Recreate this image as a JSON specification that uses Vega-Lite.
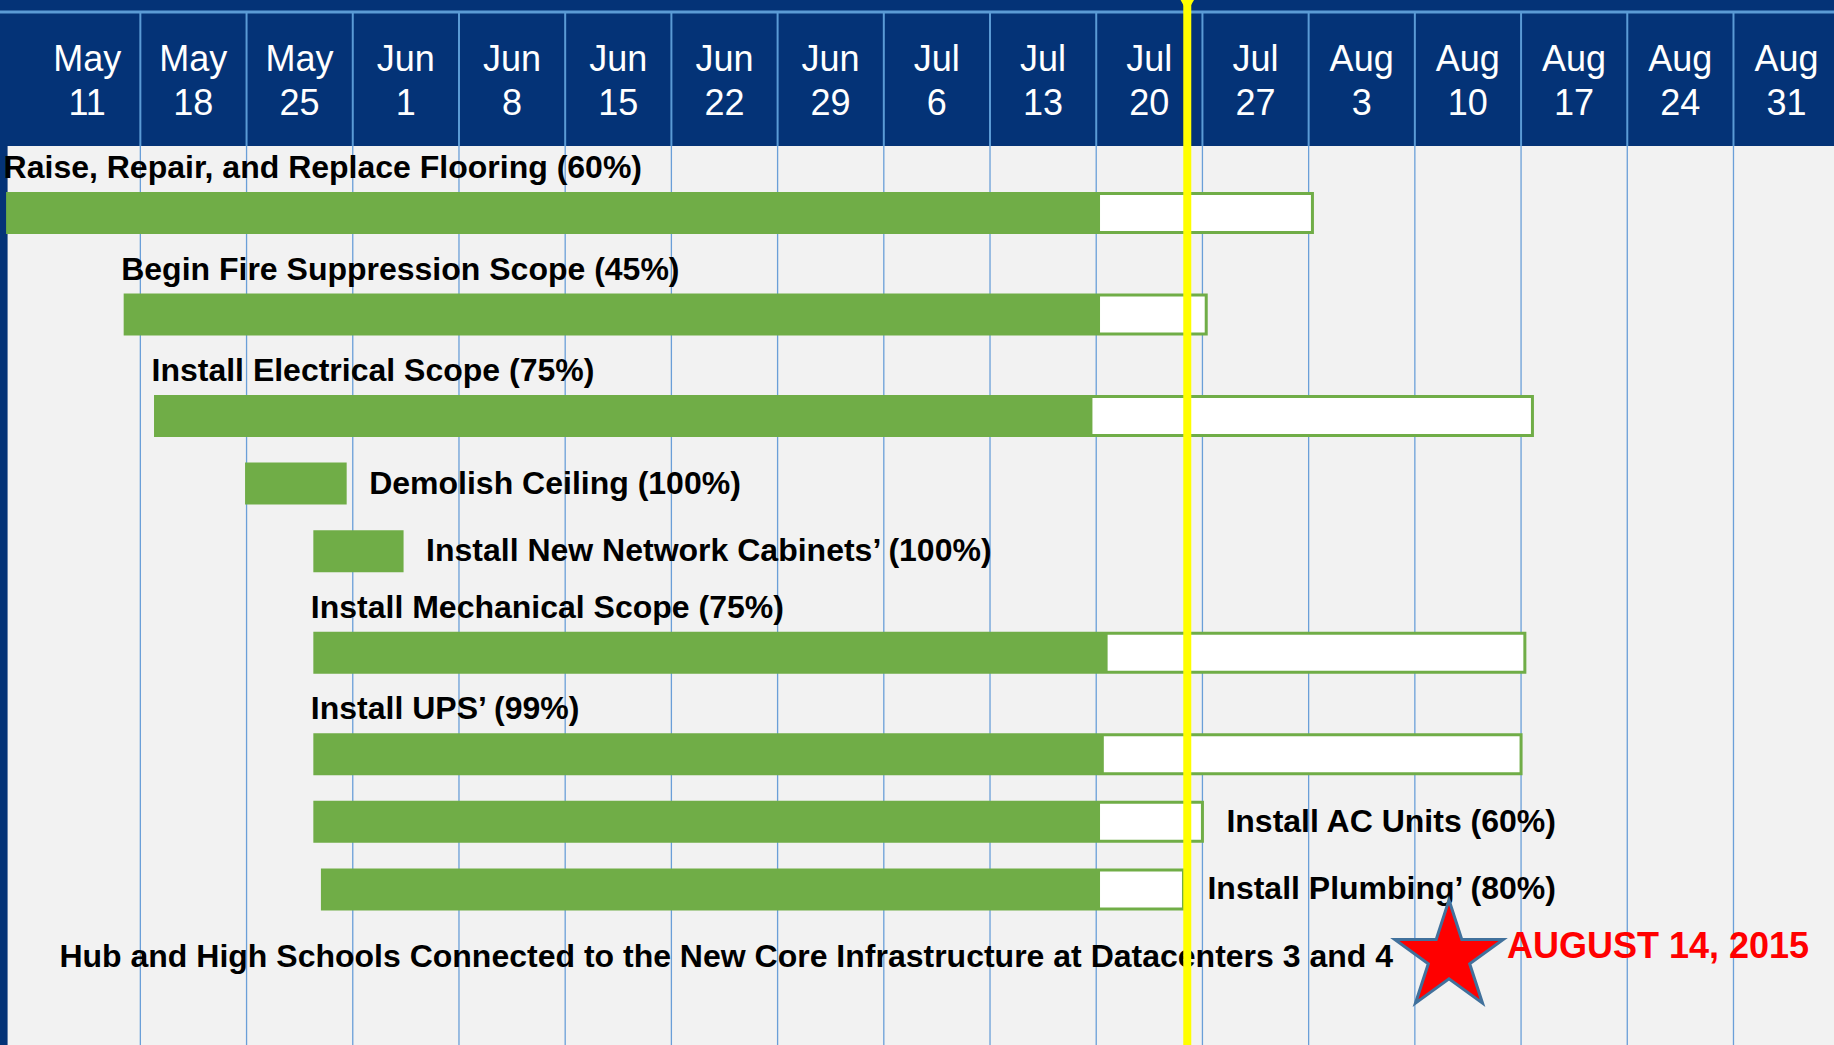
{
  "$schema": "https://vega.github.io/schema/vega-lite/v6.json",
  "width": 1834,
  "height": 1045,
  "autosize": {"type": "none"},
  "padding": 0,
  "background": "#043377",
  "config": {"view": {"stroke": null}, "axis": {"disable": true}},
  "datasets": {
    "tasks": [
      {"id": 1, "task": "Raise, Repair, and Replace Flooring (60%)", "start": "2015-05-09T06:00:00", "done": "2015-07-20T06:00:00", "end": "2015-08-03T06:00:00"},
      {"id": 2, "task": "Begin Fire Suppression Scope (45%)", "start": "2015-05-17T00:00:00", "done": "2015-07-20T06:00:00", "end": "2015-07-27T06:00:00"},
      {"id": 3, "task": "Install Electrical Scope (75%)", "start": "2015-05-19T00:00:00", "done": "2015-07-19T18:00:00", "end": "2015-08-17T18:00:00"},
      {"id": 4, "task": "Demolish Ceiling (100%)", "start": "2015-05-25T00:00:00", "done": "2015-05-31T12:00:00", "end": "2015-05-31T12:00:00"},
      {"id": 5, "task": "Install New Network Cabinets’ (100%)", "start": "2015-05-29T12:00:00", "done": "2015-06-04T06:00:00", "end": "2015-06-04T06:00:00"},
      {"id": 6, "task": "Install Mechanical Scope (75%)", "start": "2015-05-29T12:00:00", "done": "2015-07-20T18:00:00", "end": "2015-08-17T06:00:00"},
      {"id": 7, "task": "Install UPS’ (99%)", "start": "2015-05-29T12:00:00", "done": "2015-07-20T12:00:00", "end": "2015-08-17T00:00:00"},
      {"id": 8, "task": "Install AC Units (60%)", "start": "2015-05-29T12:00:00", "done": "2015-07-20T06:00:00", "end": "2015-07-27T00:00:00"},
      {"id": 9, "task": "Install Plumbing’ (80%)", "start": "2015-05-30T00:00:00", "done": "2015-07-20T06:00:00", "end": "2015-07-25T18:00:00"}
    ],
    "milestone": [
      {"id": 10, "task": "Hub and High Schools Connected to the New Core Infrastructure at Datacenters 3 and 4", "date": "2015-08-12T06:00:00", "label": "AUGUST 14, 2015"}
    ],
    "status": [{"date": "2015-07-26T00:00:00"}],
    "weeks": [
      {"date": "2015-05-11T00:00:00"}, {"date": "2015-05-18T00:00:00"}, {"date": "2015-05-25T00:00:00"},
      {"date": "2015-06-01T00:00:00"}, {"date": "2015-06-08T00:00:00"}, {"date": "2015-06-15T00:00:00"},
      {"date": "2015-06-22T00:00:00"}, {"date": "2015-06-29T00:00:00"}, {"date": "2015-07-06T00:00:00"},
      {"date": "2015-07-13T00:00:00"}, {"date": "2015-07-20T00:00:00"}, {"date": "2015-07-27T00:00:00"},
      {"date": "2015-08-03T00:00:00"}, {"date": "2015-08-10T00:00:00"}, {"date": "2015-08-17T00:00:00"},
      {"date": "2015-08-24T00:00:00"}, {"date": "2015-08-31T00:00:00"}
    ]
  },
  "resolve": {"scale": {"y": "independent"}},
  "layer": [
    {
      "layer": [
        {
          "data": {"name": "status"},
          "mark": {"type": "rect", "fill": "#F2F2F2"},
          "encoding": {
            "x": {"datum": {"year": 2015, "month": 5, "date": 9, "hours": 6}, "type": "temporal",
                  "scale": {"domain": [{"year": 2015, "month": 5, "date": 8, "hours": 18}, {"year": 2015, "month": 9, "date": 6, "hours": 15}], "nice": false}},
            "x2": {"datum": {"year": 2015, "month": 9, "date": 6, "hours": 15}},
            "y": {"datum": 0, "type": "quantitative", "scale": {"domain": [-1.78, 10.963], "reverse": true, "nice": false, "zero": false}},
            "y2": {"datum": 10.963}
          }
        },
        {
          "data": {"name": "weeks"},
          "transform": [{"filter": "time(datum.date) > time(datetime(2015, 4, 12))"}],
          "mark": {"type": "rule", "color": "#5B9BD5", "strokeWidth": 2},
          "encoding": {
            "x": {"field": "date", "type": "temporal"},
            "y": {"datum": -1.634, "type": "quantitative"},
            "y2": {"datum": 0}
          }
        },
        {
          "data": {"name": "weeks"},
          "transform": [{"filter": "time(datum.date) > time(datetime(2015, 4, 12))"}],
          "mark": {"type": "rule", "color": "#6A9FD8", "strokeWidth": 1.3},
          "encoding": {
            "x": {"field": "date", "type": "temporal"},
            "y": {"datum": 0, "type": "quantitative"},
            "y2": {"datum": 10.963}
          }
        },
        {
          "data": {"name": "status"},
          "mark": {"type": "rule", "color": "#5B9BD5", "strokeWidth": 3},
          "encoding": {
            "y": {"datum": -1.634, "type": "quantitative"}
          }
        },
        {
          "data": {"name": "weeks"},
          "mark": {"type": "text", "font": "Liberation Sans", "fontSize": 36, "color": "white", "align": "center", "baseline": "alphabetic", "dx": 53},
          "encoding": {
            "x": {"field": "date", "type": "temporal"},
            "y": {"datum": -0.917, "type": "quantitative"},
            "text": {"field": "date", "type": "temporal", "format": "%b"}
          }
        },
        {
          "data": {"name": "weeks"},
          "mark": {"type": "text", "font": "Liberation Sans", "fontSize": 36, "color": "white", "align": "center", "baseline": "alphabetic", "dx": 53},
          "encoding": {
            "x": {"field": "date", "type": "temporal"},
            "y": {"datum": -0.377, "type": "quantitative"},
            "text": {"field": "date", "type": "temporal", "format": "%-d"}
          }
        }
      ]
    },
    {
      "layer": [
        {
          "data": {"name": "tasks"},
          "mark": {"type": "bar", "orient": "horizontal", "height": 39, "fill": "white", "stroke": "#70AD47", "strokeWidth": 3},
          "encoding": {
            "x": {"field": "start", "type": "temporal"},
            "x2": {"field": "end"},
            "y": {"field": "task", "type": "nominal",
                  "scale": {"domain": [
                    "top1", "top2", "top3", "top4", "top5",
                    "Raise, Repair, and Replace Flooring (60%)", "gap1", "gap2",
                    "Begin Fire Suppression Scope (45%)", "gap3", "gap4",
                    "Install Electrical Scope (75%)", "gap5",
                    "Demolish Ceiling (100%)", "gap6",
                    "Install New Network Cabinets’ (100%)", "gap7", "gap8",
                    "Install Mechanical Scope (75%)", "gap9", "gap10",
                    "Install UPS’ (99%)", "gap11",
                    "Install AC Units (60%)", "gap12",
                    "Install Plumbing’ (80%)", "gap13",
                    "Hub and High Schools Connected to the New Core Infrastructure at Datacenters 3 and 4",
                    "bottom1"],
                    "paddingInner": 0, "paddingOuter": 0.95, "align": 0.421}}
          }
        },
        {
          "data": {"name": "tasks"},
          "mark": {"type": "bar", "orient": "horizontal", "height": 39, "fill": "#70AD47"},
          "encoding": {
            "x": {"field": "start", "type": "temporal"},
            "x2": {"field": "done"},
            "y": {"field": "task", "type": "nominal"}
          }
        },
        {
          "data": {"name": "tasks"},
          "transform": [{"filter": {"field": "id", "oneOf": [1, 2, 3, 6, 7]}}],
          "mark": {"type": "text", "font": "Liberation Sans", "fontWeight": "bold", "fontSize": 32, "color": "black", "align": "left", "baseline": "middle", "dx": -4, "dy": -45},
          "encoding": {
            "x": {"field": "start", "type": "temporal"},
            "y": {"field": "task", "type": "nominal"},
            "text": {"field": "task"}
          }
        },
        {
          "data": {"name": "tasks"},
          "transform": [{"filter": {"field": "id", "oneOf": [4, 5, 8, 9]}}],
          "mark": {"type": "text", "font": "Liberation Sans", "fontWeight": "bold", "fontSize": 32, "color": "black", "align": "left", "baseline": "middle", "dx": 24},
          "encoding": {
            "x": {"field": "end", "type": "temporal"},
            "y": {"field": "task", "type": "nominal"},
            "text": {"field": "task"}
          }
        },
        {
          "data": {"name": "milestone"},
          "mark": {"type": "text", "font": "Liberation Sans", "fontWeight": "bold", "fontSize": 32, "color": "black", "align": "right", "baseline": "middle", "dx": -56},
          "encoding": {
            "x": {"field": "date", "type": "temporal"},
            "y": {"field": "task", "type": "nominal"},
            "text": {"field": "task"}
          }
        },
        {
          "data": {"name": "milestone"},
          "mark": {"type": "point", "shape": "M0,-1L0.2245,-0.309L0.951,-0.309L0.363,0.118L0.588,0.809L0,0.382L-0.588,0.809L-0.363,0.118L-0.951,-0.309L-0.2245,-0.309Z", "filled": true, "fill": "#FF0000", "stroke": "#41719C", "strokeWidth": 3, "opacity": 1, "size": 13000},
          "encoding": {
            "x": {"field": "date", "type": "temporal"},
            "y": {"field": "task", "type": "nominal"}
          }
        },
        {
          "data": {"name": "milestone"},
          "mark": {"type": "text", "font": "Liberation Sans", "fontWeight": "bold", "fontSize": 36, "color": "#FF0000", "align": "left", "baseline": "middle", "dx": 58, "dy": -10},
          "encoding": {
            "x": {"field": "date", "type": "temporal"},
            "y": {"field": "task", "type": "nominal"},
            "text": {"field": "label"}
          }
        }
      ]
    },
    {
      "layer": [
        {
          "data": {"name": "status"},
          "mark": {"type": "rule", "color": "#FFFF00", "strokeWidth": 8},
          "encoding": {
            "x": {"field": "date", "type": "temporal"}
          }
        },
        {
          "data": {"name": "status"},
          "mark": {"type": "point", "shape": "triangle-down", "filled": true, "fill": "#FFFF00", "opacity": 1, "size": 500},
          "encoding": {
            "x": {"field": "date", "type": "temporal"},
            "y": {"datum": -1.756, "type": "quantitative", "scale": {"domain": [-1.78, 10.963], "reverse": true, "nice": false, "zero": false}}
          }
        }
      ]
    }
  ]
}
